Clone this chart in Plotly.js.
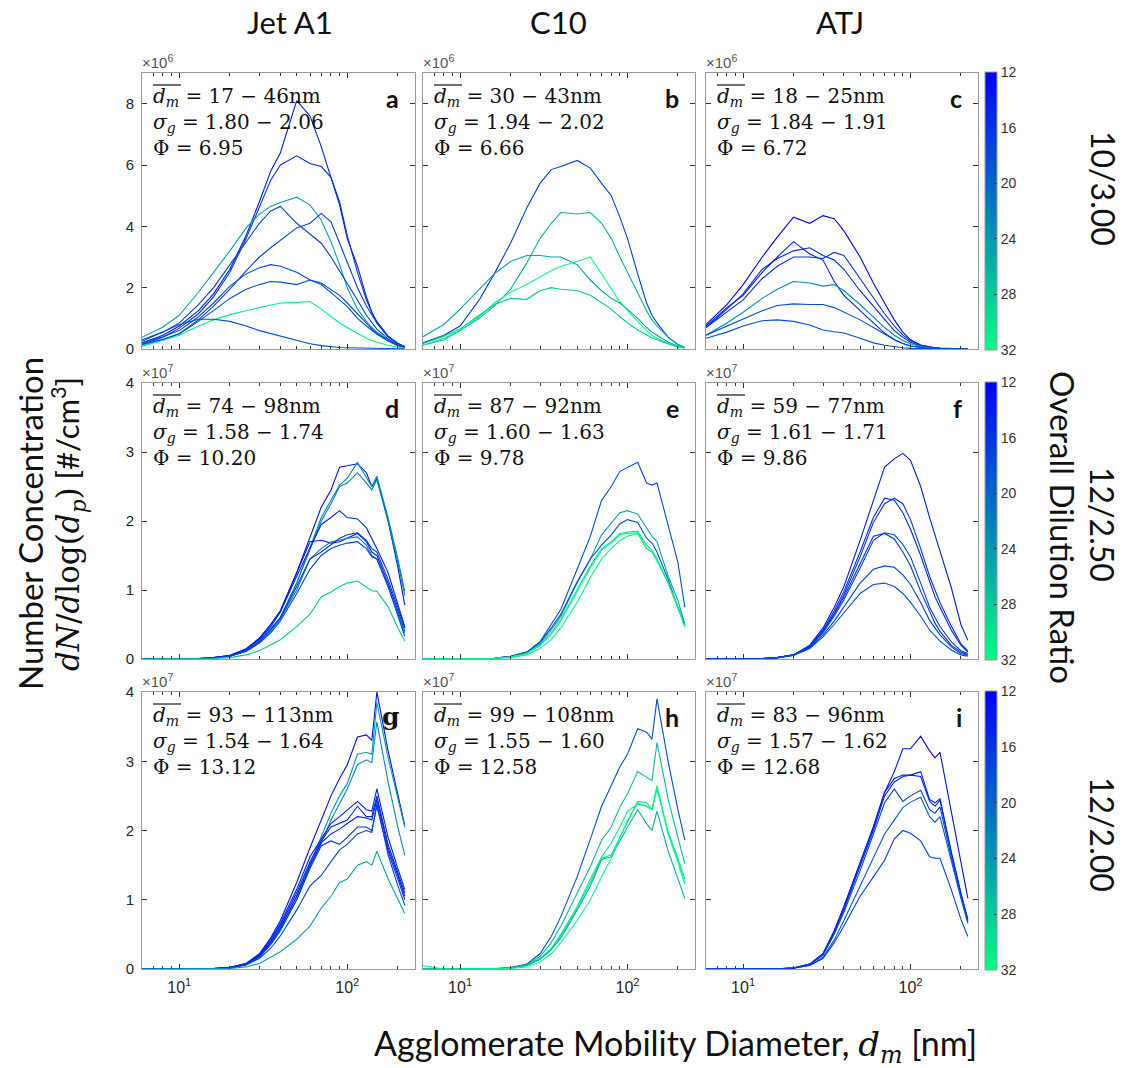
<!DOCTYPE html>
<html><head><meta charset="utf-8">
<script src="https://cdn.plot.ly/plotly-3.0.1.min.js"></script>
<style>body{margin:0;background:#fff}#chart{width:1137px;height:1068px}</style>
</head><body><div id="chart"></div>
<script>
// ---------------- DATA ----------------
const diameter = [6, 8, 10, 13, 16, 20, 25, 30, 35, 40, 50, 60, 70, 80, 90, 100, 115, 130, 140, 150, 175, 200, 220];
const fuels = ['Jet A1', 'C10', 'ATJ'];
const conditions = ['10/3.00', '12/2.50', '12/2.00'];
const panelLetters = ['a','b','c','d','e','f','g','h','i'];
const dmRanges = ['17 − 46','30 − 43','18 − 25','74 − 98','87 − 92','59 − 77','93 − 113','99 − 108','83 − 96'];
const sigmaRanges = ['1.80 − 2.06','1.94 − 2.02','1.84 − 1.91','1.58 − 1.74','1.60 − 1.63','1.61 − 1.71','1.54 − 1.64','1.55 − 1.60','1.57 − 1.62'];
const phiValues = ['6.95','6.66','6.72','10.20','9.78','9.86','13.12','12.58','12.68'];
const rowExponent = [6, 7, 7];
const rowYMax = [9, 4, 4];
const rowYTicks = [[0,2,4,6,8],[0,1,2,3,4],[0,1,2,3,4]];
const colorbarTicks = [12, 16, 20, 24, 28, 32];

// panel a (x10^6)
const dilA = [14,16,25,17,17,18,18,31,18];
const curvesA = [
 [0.2,0.45,0.75,1.25,1.8,2.6,3.7,4.8,5.8,6.4,8.1,7.6,6.6,5.6,4.7,3.6,2.7,1.7,1.2,0.85,0.4,0.18,0.08],
 [0.15,0.38,0.68,1.15,1.7,2.5,3.6,4.6,5.5,6.0,6.3,6.05,5.95,5.6,4.8,3.7,2.5,1.6,1.2,0.9,0.42,0.18,0.07],
 [0.38,0.72,1.1,1.85,2.5,3.2,3.95,4.4,4.65,4.78,4.95,4.7,4.2,3.5,2.75,2.0,1.3,0.9,0.7,0.55,0.3,0.12,0.05],
 [0.3,0.55,0.85,1.45,2.0,2.75,3.5,4.1,4.5,4.65,4.1,3.75,3.45,3.0,2.55,2.15,1.6,1.1,0.85,0.65,0.33,0.14,0.05],
 [0.1,0.3,0.5,0.95,1.4,1.95,2.55,3.0,3.3,3.55,3.95,4.1,4.42,4.15,3.45,2.8,2.0,1.4,1.1,0.85,0.4,0.18,0.07],
 [0.2,0.4,0.6,1.05,1.5,2.05,2.45,2.65,2.75,2.7,2.5,2.25,2.15,1.95,1.75,1.5,1.15,0.82,0.66,0.52,0.28,0.12,0.05],
 [0.15,0.32,0.5,0.9,1.25,1.65,1.95,2.1,2.2,2.18,2.1,2.25,2.1,1.85,1.6,1.38,1.0,0.75,0.6,0.48,0.26,0.11,0.05],
 [0.1,0.28,0.45,0.75,0.95,1.12,1.25,1.35,1.45,1.5,1.52,1.55,1.3,1.05,0.85,0.7,0.5,0.35,0.28,0.22,0.12,0.05,0.02],
 [0.25,0.55,0.8,0.97,0.97,0.9,0.75,0.6,0.5,0.42,0.27,0.17,0.11,0.07,0.05,0.04,0.03,0.02,0.02,0.01,0.01,0.01,0.01]
];
// panel b (x10^6)
const dilB = [17,26,25,32,28];
const curvesB = [
 [0.2,0.45,0.75,1.6,2.45,3.45,4.6,5.4,5.85,5.95,6.15,5.9,5.4,5.0,4.3,3.6,2.45,1.5,1.1,0.85,0.38,0.15,0.05],
 [0.12,0.3,0.6,1.0,1.4,1.95,2.8,3.6,4.1,4.45,4.4,4.45,4.1,3.6,3.0,2.5,1.8,1.25,0.95,0.75,0.38,0.15,0.05],
 [0.4,0.8,1.3,1.95,2.45,2.85,3.05,3.05,3.0,3.0,2.75,2.25,1.9,1.65,1.5,1.3,1.0,0.7,0.55,0.45,0.22,0.1,0.04],
 [0.13,0.35,0.6,1.05,1.5,1.85,2.1,2.35,2.55,2.7,2.85,3.0,2.45,1.95,1.55,1.25,0.9,0.6,0.45,0.35,0.18,0.08,0.03],
 [0.18,0.42,0.65,1.1,1.45,1.65,1.62,1.9,2.0,1.95,1.9,1.75,1.5,1.3,1.05,0.85,0.62,0.45,0.37,0.3,0.16,0.07,0.03]
];
// panel c (x10^6)
const dilC = [12,15,15,16,23,18,18];
const curvesC = [
 [0.8,1.45,2.1,3.0,3.65,4.3,4.1,4.35,4.25,3.85,3.0,2.15,1.5,0.95,0.55,0.3,0.13,0.06,0.04,0.03,0.01,0,0],
 [0.75,1.35,1.75,2.5,3.0,3.5,3.1,2.9,2.2,1.75,1.25,0.85,0.52,0.3,0.18,0.1,0.05,0.02,0.01,0.01,0,0,0],
 [0.7,1.3,1.8,2.6,2.95,3.2,3.3,3.05,2.9,2.6,1.9,1.4,0.95,0.6,0.38,0.22,0.1,0.05,0.03,0.02,0.01,0,0],
 [0.7,1.2,1.6,2.3,2.7,3.0,3.0,2.95,3.15,3.05,2.3,1.65,1.15,0.75,0.45,0.27,0.12,0.06,0.03,0.02,0.01,0,0],
 [0.45,0.85,1.2,1.65,1.95,2.2,2.15,2.05,2.1,1.9,1.45,1.05,0.7,0.45,0.28,0.17,0.08,0.04,0.02,0.01,0,0,0],
 [0.45,0.75,1.0,1.25,1.42,1.47,1.45,1.45,1.35,1.2,0.95,0.7,0.48,0.3,0.18,0.1,0.05,0.02,0.01,0.01,0,0,0],
 [0.35,0.55,0.75,0.92,0.95,0.9,0.78,0.62,0.56,0.52,0.35,0.2,0.12,0.07,0.04,0.02,0.01,0,0,0,0,0,0]
];
// panel d (x10^7)
const dilD = [13,23,22,15,14,22,16,17,28];
const curvesD = [
 [0,0,0,0.005,0.02,0.05,0.15,0.3,0.5,0.7,1.25,1.75,2.2,2.45,2.78,2.8,2.83,2.7,2.5,2.62,2.0,1.33,0.78],
 [0,0,0,0.004,0.015,0.04,0.12,0.25,0.42,0.6,1.1,1.6,2.05,2.3,2.52,2.62,2.85,2.63,2.5,2.65,2.05,1.45,0.98],
 [0,0,0,0.004,0.015,0.04,0.12,0.25,0.42,0.6,1.1,1.58,2.0,2.25,2.5,2.55,2.7,2.55,2.45,2.6,2.0,1.4,0.92],
 [0,0,0,0.005,0.02,0.05,0.14,0.28,0.47,0.68,1.2,1.6,1.95,2.05,2.15,2.05,2.03,1.9,1.75,1.6,1.25,0.78,0.47],
 [0,0,0,0.005,0.02,0.05,0.14,0.3,0.5,0.7,1.25,1.7,1.72,1.68,1.7,1.75,1.82,1.7,1.55,1.5,1.1,0.7,0.4],
 [0,0,0,0.004,0.015,0.04,0.12,0.25,0.4,0.58,1.0,1.45,1.6,1.7,1.72,1.75,1.77,1.65,1.5,1.45,1.05,0.65,0.38],
 [0,0,0,0.004,0.015,0.04,0.12,0.26,0.44,0.6,1.05,1.45,1.55,1.65,1.75,1.8,1.83,1.72,1.6,1.55,1.15,0.75,0.45],
 [0,0,0,0.004,0.015,0.04,0.11,0.23,0.38,0.55,0.95,1.3,1.5,1.6,1.65,1.68,1.7,1.6,1.48,1.45,1.05,0.62,0.33],
 [0,0,0,0.002,0.008,0.02,0.06,0.12,0.2,0.28,0.47,0.65,0.9,0.97,1.05,1.1,1.13,1.05,0.99,0.98,0.76,0.45,0.26]
];
// panel e (x10^7)
const dilE = [18,25,18,30,32,31];
const curvesE = [
 [0,0,0,0.003,0.01,0.04,0.1,0.25,0.5,0.72,1.3,1.78,2.3,2.5,2.72,2.78,2.85,2.55,2.52,2.55,1.95,1.4,0.75],
 [0,0,0,0.003,0.01,0.035,0.09,0.22,0.42,0.62,1.1,1.45,1.8,1.97,2.12,2.15,2.1,1.9,1.78,1.7,1.2,0.85,0.5],
 [0,0,0,0.003,0.01,0.04,0.1,0.24,0.45,0.65,1.12,1.45,1.65,1.8,1.96,2.02,1.98,1.75,1.68,1.55,1.15,0.75,0.5],
 [0,0,0,0.002,0.008,0.03,0.08,0.2,0.38,0.58,1.0,1.35,1.6,1.7,1.82,1.84,1.85,1.65,1.58,1.45,1.1,0.75,0.48],
 [0,0,0,0.002,0.008,0.03,0.08,0.19,0.36,0.55,0.98,1.32,1.58,1.68,1.8,1.82,1.83,1.6,1.55,1.42,1.1,0.75,0.47],
 [0,0,0,0.002,0.006,0.02,0.06,0.15,0.28,0.45,0.82,1.18,1.45,1.6,1.72,1.78,1.82,1.6,1.55,1.45,1.1,0.75,0.47]
];
// panel f (x10^7)
const dilF = [14,15,16,16,17,17,18];
const curvesF = [
 [0,0,0,0.005,0.02,0.06,0.2,0.45,0.75,1.05,1.72,2.3,2.78,2.9,2.98,2.88,2.5,2.05,1.8,1.57,1.04,0.5,0.27],
 [0,0,0,0.005,0.02,0.06,0.19,0.42,0.7,0.98,1.55,2.05,2.33,2.3,2.12,1.88,1.5,1.12,0.9,0.75,0.42,0.2,0.1],
 [0,0,0,0.005,0.02,0.06,0.18,0.4,0.66,0.93,1.48,1.98,2.25,2.33,2.25,2.02,1.6,1.2,1.0,0.82,0.48,0.22,0.12],
 [0,0,0,0.005,0.02,0.06,0.18,0.4,0.65,0.9,1.38,1.78,1.82,1.74,1.55,1.35,0.98,0.68,0.52,0.4,0.2,0.1,0.06],
 [0,0,0,0.005,0.02,0.06,0.17,0.38,0.62,0.86,1.32,1.72,1.83,1.8,1.66,1.48,1.1,0.75,0.6,0.47,0.25,0.12,0.08],
 [0,0,0,0.004,0.018,0.055,0.16,0.35,0.55,0.75,1.1,1.3,1.35,1.33,1.22,1.08,0.82,0.56,0.45,0.35,0.18,0.08,0.05],
 [0,0,0,0.004,0.017,0.05,0.15,0.32,0.5,0.67,0.95,1.08,1.1,1.05,0.95,0.82,0.62,0.42,0.33,0.26,0.13,0.06,0.04]
];
// panel g (x10^7)
const dilG = [13,24,23,14,15,14,16,17,25];
const curvesG = [
 [0,0,0,0,0.005,0.02,0.08,0.22,0.45,0.7,1.25,1.75,2.15,2.5,2.75,2.95,3.35,3.38,3.3,4.0,3.15,2.5,2.07],
 [0,0,0,0,0.004,0.015,0.06,0.17,0.36,0.58,1.05,1.52,1.9,2.25,2.5,2.68,3.1,3.13,3.1,3.85,3.05,2.45,2.05],
 [0,0,0,0,0.004,0.015,0.06,0.17,0.35,0.55,1.0,1.48,1.82,2.15,2.38,2.6,2.95,3.02,2.98,3.57,2.7,2.05,1.64],
 [0,0,0,0,0.005,0.02,0.08,0.2,0.42,0.66,1.15,1.62,1.88,2.1,2.2,2.3,2.42,2.3,2.28,2.6,1.9,1.45,1.15],
 [0,0,0,0,0.005,0.02,0.08,0.2,0.4,0.63,1.1,1.55,1.85,2.05,2.1,2.15,2.35,2.2,2.2,2.5,1.8,1.4,1.1],
 [0,0,0,0,0.005,0.02,0.07,0.19,0.38,0.6,1.05,1.5,1.82,1.95,2.02,2.1,2.2,2.18,2.15,2.45,1.75,1.35,1.05],
 [0,0,0,0,0.005,0.02,0.07,0.18,0.36,0.57,1.0,1.45,1.78,1.85,1.8,1.9,2.05,2.05,2.0,2.35,1.7,1.3,1.0],
 [0,0,0,0,0.004,0.015,0.06,0.15,0.3,0.48,0.85,1.2,1.35,1.55,1.72,1.8,1.95,2.0,1.97,2.4,1.65,1.2,0.92],
 [0,0,0,0,0.002,0.008,0.03,0.08,0.17,0.25,0.43,0.62,0.88,1.05,1.25,1.3,1.5,1.55,1.5,1.7,1.3,1.0,0.8]
];
// panel h (x10^7)
const dilH = [18,27,31,30,26,32];
const curvesH = [
 [0,0,0,0,0.005,0.02,0.07,0.22,0.47,0.76,1.33,1.88,2.35,2.65,2.92,3.1,3.47,3.42,3.32,3.9,2.99,2.3,1.86],
 [0,0,0,0,0.004,0.015,0.06,0.18,0.38,0.62,1.1,1.48,1.86,2.05,2.34,2.53,2.85,2.77,2.72,3.27,2.45,1.9,1.52],
 [0,0,0,0,0.003,0.012,0.05,0.15,0.3,0.5,0.9,1.3,1.62,1.82,2.05,2.28,2.38,2.35,2.3,2.65,1.95,1.55,1.24],
 [0,0,0,0,0.003,0.012,0.05,0.14,0.28,0.48,0.88,1.25,1.6,1.65,1.9,2.1,2.42,2.4,2.3,2.6,1.98,1.6,1.3],
 [0,0,0,0,0.003,0.012,0.05,0.14,0.28,0.45,0.85,1.2,1.58,1.62,1.85,2.05,2.3,2.1,2.0,2.28,1.7,1.3,1.02],
 [0.05,0,0,0,0.002,0.008,0.03,0.1,0.22,0.38,0.7,1.0,1.33,1.6,1.9,2.15,2.4,2.35,2.3,2.62,1.95,1.55,1.22]
];
// panel i (x10^7)
const dilI = [13,14,15,17,19,17];
const curvesI = [
 [0,0,0,0,0.003,0.015,0.07,0.22,0.55,0.9,1.52,2.05,2.55,2.85,3.18,3.18,3.36,3.15,3.05,3.13,2.28,1.55,1.02],
 [0,0,0,0,0.003,0.015,0.07,0.22,0.55,0.9,1.52,2.05,2.55,2.75,2.8,2.8,2.85,2.45,2.4,2.46,1.7,1.1,0.72],
 [0,0,0,0,0.003,0.015,0.07,0.21,0.52,0.86,1.48,2.0,2.5,2.7,2.78,2.8,2.78,2.42,2.35,2.44,1.68,1.08,0.7],
 [0,0,0,0,0.003,0.014,0.065,0.2,0.5,0.82,1.42,1.95,2.4,2.6,2.42,2.5,2.58,2.3,2.25,2.34,1.62,1.05,0.68],
 [0,0,0,0,0.003,0.012,0.055,0.17,0.42,0.7,1.2,1.6,1.95,2.15,2.33,2.41,2.48,2.2,2.12,2.2,1.55,1.02,0.66],
 [0,0,0,0,0.003,0.012,0.05,0.15,0.38,0.62,1.05,1.33,1.57,1.88,2.0,1.96,1.85,1.62,1.6,1.6,1.15,0.72,0.47]
];

const panelCurves = [curvesA, curvesB, curvesC, curvesD, curvesE, curvesF, curvesG, curvesH, curvesI];
const panelDilution = [dilA, dilB, dilC, dilD, dilE, dilF, dilG, dilH, dilI];

// ---------------- LAYOUT / STYLE ----------------
const W = 1137, H = 1068;
const colPx = [[142, 415], [423, 695], [706, 978]];
const rowPx = [[73, 349], [383, 659], [692, 969]];
const cmin = 12, cmax = 32;
function winter(v) {
  const t = Math.max(0, Math.min(1, (v - cmin) / (cmax - cmin)));
  return 'rgb(0,' + Math.round(255 * t) + ',' + Math.round(255 * (1 - t / 2)) + ')';
}
const serif = "'DejaVu Serif', serif";
const sans = "Lato, 'Open Sans', sans-serif";
const minorTicks = [7, 8, 9, 20, 30, 40, 50, 60, 70, 80, 90, 200];

const traces = [];
const layout = {
  width: W, height: H, margin: {l: 0, r: 0, t: 0, b: 0},
  paper_bgcolor: '#fff', plot_bgcolor: '#fff', showlegend: false,
  font: {family: 'Arial, sans-serif', color: '#262626'},
  annotations: [], shapes: []
};

for (let k = 0; k < 9; k++) {
  const r = Math.floor(k / 3), c = k % 3;
  const xn = k === 0 ? 'x' : 'x' + (k + 1);
  const yn = k === 0 ? 'y' : 'y' + (k + 1);
  const xa = k === 0 ? 'xaxis' : 'xaxis' + (k + 1);
  const ya = k === 0 ? 'yaxis' : 'yaxis' + (k + 1);
  const pw = colPx[c][1] - colPx[c][0], ph = rowPx[r][1] - rowPx[r][0];
  layout[xa] = {
    domain: [colPx[c][0] / W, colPx[c][1] / W], anchor: yn, type: 'log',
    range: [Math.log10(6.0), Math.log10(253)],
    tickmode: 'array', tickvals: [10, 100], ticktext: ['10<sup>1</sup>', '10<sup>2</sup>'],
    ticks: 'inside', ticklen: 5, tickcolor: '#333', showline: true, mirror: 'ticks',
    linecolor: '#9a9a9a', linewidth: 1, showgrid: false, zeroline: false,
    showticklabels: r === 2, tickfont: {family: 'Arial', size: 16, color: '#262626'},
    ticklabelstandoff: 4,
    minor: {tickmode: 'array', tickvals: minorTicks, ticks: 'inside', ticklen: 3, tickcolor: '#333', showgrid: false}
  };
  layout[ya] = {
    domain: [1 - rowPx[r][1] / H, 1 - rowPx[r][0] / H], anchor: xn,
    range: [0, rowYMax[r]], tickmode: 'array', tickvals: rowYTicks[r],
    ticks: 'inside', ticklen: 5, tickcolor: '#333', showline: true, mirror: 'ticks',
    linecolor: '#9a9a9a', linewidth: 1, showgrid: false, zeroline: false,
    showticklabels: c === 0, tickfont: {family: 'Arial', size: 15, color: '#262626'},
    ticklabelstandoff: 4
  };
  const curves = panelCurves[k], dils = panelDilution[k];
  curves.forEach((ys, j) => {
    traces.push({
      type: 'scatter', mode: 'lines', x: diameter, y: ys, xaxis: xn, yaxis: yn,
      line: {color: winter(dils[j]), width: 1.1}, hoverinfo: 'skip', showlegend: false
    });
  });
  const xd = xn + ' domain', yd = yn + ' domain';
  // exponent label
  layout.annotations.push({
    xref: xd, yref: yd, x: 0, y: 1, xanchor: 'left', yanchor: 'bottom', showarrow: false, yshift: 0, xshift: -2,
    text: '×10<sup>' + rowExponent[r] + '</sup>', font: {family: 'Arial', size: 15, color: '#555'}
  });
  // stats text
  layout.annotations.push({
    xref: xd, yref: yd, x: 0, y: 1, xanchor: 'left', yanchor: 'top', align: 'left', showarrow: false,
    xshift: 9, yshift: -9,
    text: '<i>d</i><sub><i>m</i></sub> = ' + dmRanges[k] + 'nm<br>' +
          '<i>σ</i><sub><i>g</i></sub> = ' + sigmaRanges[k] + '<br>' +
          'Φ = ' + phiValues[k],
    font: {family: serif, size: 20, color: '#111'}
  });
  // overline above d_m (decoration of the label)
  layout.shapes.push({
    type: 'line', xref: xd, yref: yd, x0: 11 / pw, x1: 39 / pw, y0: 1 - 12 / ph, y1: 1 - 12 / ph,
    line: {color: '#111', width: 1.2}
  });
  // panel letter
  layout.annotations.push({
    xref: xd, yref: yd, x: 1, y: 1, xanchor: 'right', yanchor: 'top', showarrow: false, xshift: -14, yshift: -8,
    text: '<b>' + panelLetters[k] + '</b>',
    font: {family: panelLetters[k] === 'g' ? serif : sans, size: 25, color: '#111'}
  });
}

// colorbars (one per row)
for (let r = 0; r < 3; r++) {
  const k = r * 3 + 2;
  const cy = 1 - (rowPx[r][0] + rowPx[r][1]) / 2 / H;
  traces.push({
    type: 'scatter', mode: 'markers', x: [diameter[2]], y: [0],
    xaxis: 'x' + (k + 1), yaxis: 'y' + (k + 1), hoverinfo: 'skip', showlegend: false,
    marker: {
      size: 1, opacity: 0, color: [-cmin], cmin: -cmax, cmax: -cmin,
      colorscale: [[0, winter(cmax)], [1, winter(cmin)]], showscale: true,
      colorbar: {
        x: 985 / W, xanchor: 'left', xref: 'paper', y: cy, yanchor: 'middle', yref: 'paper',
        len: (rowPx[r][1] - rowPx[r][0] + 2) / H, lenmode: 'fraction',
        thickness: 12, thicknessmode: 'pixels', xpad: 0, ypad: 0,
        outlinewidth: 1, outlinecolor: '#999', borderwidth: 0,
        tickmode: 'array', tickvals: colorbarTicks.map(v => -v), ticktext: colorbarTicks.map(String),
        ticks: 'inside', ticklen: 3, tickcolor: '#333',
        tickfont: {family: 'Arial', size: 14, color: '#333'}
      }
    }
  });
}

// global text
const colCenters = [290, 558, 840];
fuels.forEach((f, c) => layout.annotations.push({
  xref: 'paper', yref: 'paper', x: colCenters[c] / W, y: 1 - 22 / H, xanchor: 'center', yanchor: 'middle',
  showarrow: false, text: f, font: {family: sans, size: 31, color: '#111'}
}));
const rowLabelCenters = [188, 524, 834];
conditions.forEach((t, r) => layout.annotations.push({
  xref: 'paper', yref: 'paper', x: 1103 / W, y: 1 - rowLabelCenters[r] / H,
  xanchor: 'center', yanchor: 'middle', textangle: 90, showarrow: false, text: t,
  font: {family: sans, size: 32, color: '#111'}
}));
layout.annotations.push({
  xref: 'paper', yref: 'paper', x: 1063 / W, y: 1 - 527 / H, xanchor: 'center', yanchor: 'middle',
  textangle: 90, showarrow: false, text: 'Overall Dilution Ratio', font: {family: sans, size: 33, color: '#111'}
});
layout.annotations.push({
  xref: 'paper', yref: 'paper', x: 30 / W, y: 1 - 524 / H, xanchor: 'center', yanchor: 'middle',
  textangle: -90, showarrow: false, text: 'Number Concentration', font: {family: sans, size: 33, color: '#111'}
});
layout.annotations.push({
  xref: 'paper', yref: 'paper', x: 68 / W, y: 1 - 524 / H, xanchor: 'center', yanchor: 'middle',
  textangle: -90, showarrow: false,
  text: '<span style="font-family:\'DejaVu Serif\'"><i>dN</i>/<i>d</i>log(<i>d</i><sub><i>p</i></sub>)</span> [#/cm<sup>3</sup>]',
  font: {family: sans, size: 31, color: '#111'}
});
layout.annotations.push({
  xref: 'paper', yref: 'paper', x: 676 / W, y: 1 - 1045 / H, xanchor: 'center', yanchor: 'middle',
  showarrow: false,
  text: 'Agglomerate Mobility Diameter, <span style="font-family:\'DejaVu Serif\'"><i>d</i><sub><i>m</i></sub></span> [nm]',
  font: {family: sans, size: 34, color: '#111'}
});

Plotly.newPlot('chart', traces, layout, {staticPlot: true, displayModeBar: false});
</script>
</body></html>
